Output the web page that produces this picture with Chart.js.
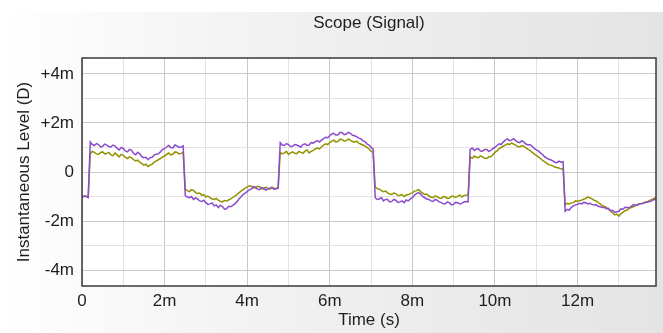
<!DOCTYPE html>
<html>
<head>
<meta charset="utf-8">
<script src="https://cdn.jsdelivr.net/npm/chart.js@4/dist/chart.umd.min.js"></script>
<style>
  html, body { margin: 0; padding: 0; background: #ffffff; }
  #wrap { position: relative; width: 663px; height: 333px; overflow: hidden; background: #ffffff; }
  #bg { position: absolute; left: 0; top: 12px; width: 663px; height: 321px;
        background: linear-gradient(to right, #ffffff 0%, #f3f3f3 35%, #e9e9e9 75%, #e4e4e4 100%); }
  canvas { position: absolute; left: 0; top: 0; }
</style>
</head>
<body>
<div id="wrap">
  <div id="bg"></div>
  <canvas id="c" width="663" height="333"></canvas>
</div>
<script>
// Time samples (ms)
const times = [
  0.00,0.05,0.10,0.15,0.20,0.25,0.30,0.35,0.40,0.45,
  0.50,0.55,0.60,0.65,0.70,0.75,0.80,0.85,0.90,0.95,
  1.00,1.05,1.10,1.15,1.20,1.25,1.30,1.35,1.40,1.45,
  1.50,1.55,1.60,1.65,1.70,1.75,1.80,1.85,1.90,1.95,
  2.00,2.05,2.10,2.15,2.20,2.25,2.30,2.35,2.40,2.45,
  2.50,2.55,2.60,2.65,2.70,2.75,2.80,2.85,2.90,2.95,
  3.00,3.05,3.10,3.15,3.20,3.25,3.30,3.35,3.40,3.45,
  3.50,3.55,3.60,3.65,3.70,3.75,3.80,3.85,3.90,3.95,
  4.00,4.05,4.10,4.15,4.20,4.25,4.30,4.35,4.40,4.45,
  4.50,4.55,4.60,4.65,4.70,4.75,4.80,4.85,4.90,4.95,
  5.00,5.05,5.10,5.15,5.20,5.25,5.30,5.35,5.40,5.45,
  5.50,5.55,5.60,5.65,5.70,5.75,5.80,5.85,5.90,5.95,
  6.00,6.05,6.10,6.15,6.20,6.25,6.30,6.35,6.40,6.45,
  6.50,6.55,6.60,6.65,6.70,6.75,6.80,6.85,6.90,6.95,
  7.00,7.05,7.10,7.15,7.20,7.25,7.30,7.35,7.40,7.45,
  7.50,7.55,7.60,7.65,7.70,7.75,7.80,7.85,7.90,7.95,
  8.00,8.05,8.10,8.15,8.20,8.25,8.30,8.35,8.40,8.45,
  8.50,8.55,8.60,8.65,8.70,8.75,8.80,8.85,8.90,8.95,
  9.00,9.05,9.10,9.15,9.20,9.25,9.30,9.35,9.40,9.45,
  9.50,9.55,9.60,9.65,9.70,9.75,9.80,9.85,9.90,9.95,
  10.00,10.05,10.10,10.15,10.20,10.25,10.30,10.35,10.40,10.45,
  10.50,10.55,10.60,10.65,10.70,10.75,10.80,10.85,10.90,10.95,
  11.00,11.05,11.10,11.15,11.20,11.25,11.30,11.35,11.40,11.45,
  11.50,11.55,11.60,11.65,11.70,11.75,11.80,11.85,11.90,11.95,
  12.00,12.05,12.10,12.15,12.20,12.25,12.30,12.35,12.40,12.45,
  12.50,12.55,12.60,12.65,12.70,12.75,12.80,12.85,12.90,12.95,
  13.00,13.05,13.10,13.15,13.20,13.25,13.30,13.35,13.40,13.45,
  13.50,13.55,13.60,13.65,13.70,13.75,13.80,13.85,13.90
];

// Purple trace (milli-units)
const purpleSignal = [
  -1.02,-0.98,-1.00,-1.04,1.22,1.12,1.08,1.16,1.12,1.02,
  1.05,1.14,1.10,1.04,1.02,1.10,1.06,0.96,0.90,1.00,
  0.96,0.86,0.82,0.92,0.88,0.76,0.70,0.80,0.74,0.62,
  0.58,0.60,0.50,0.58,0.60,0.70,0.72,0.74,0.82,0.92,
  0.95,1.02,1.08,1.00,0.98,1.10,1.06,1.00,1.02,1.06,
  -0.95,-1.02,-1.05,-1.00,-1.12,-1.06,-1.10,-1.18,-1.20,-1.15,
  -1.25,-1.32,-1.30,-1.26,-1.38,-1.34,-1.45,-1.36,-1.40,-1.52,
  -1.50,-1.40,-1.42,-1.36,-1.30,-1.22,-1.10,-1.02,-0.92,-0.86,
  -0.80,-0.72,-0.70,-0.60,-0.62,-0.70,-0.72,-0.64,-0.66,-0.74,
  -0.70,-0.66,-0.64,-0.70,-0.68,-0.66,1.20,1.10,1.08,1.16,
  1.12,1.04,1.05,1.12,1.10,1.06,1.02,1.12,1.15,1.08,
  1.10,1.20,1.18,1.24,1.28,1.22,1.30,1.36,1.42,1.40,
  1.48,1.55,1.58,1.50,1.52,1.62,1.60,1.52,1.55,1.62,
  1.58,1.50,1.48,1.44,1.38,1.36,1.28,1.24,1.15,1.10,
  1.00,0.94,-1.05,-1.12,-1.10,-1.04,-1.18,-1.12,-1.12,-1.22,
  -1.20,-1.12,-1.15,-1.24,-1.22,-1.18,-1.25,-1.14,-1.18,-1.10,
  -1.05,-0.94,-0.88,-0.84,-0.90,-1.00,-1.05,-1.10,-1.12,-1.18,
  -1.20,-1.12,-1.15,-1.22,-1.25,-1.30,-1.30,-1.22,-1.26,-1.34,
  -1.32,-1.24,-1.25,-1.30,-1.28,-1.22,-1.20,-1.22,0.92,0.98,
  0.88,0.94,0.95,0.86,0.85,0.92,0.92,0.84,0.88,0.96,
  1.00,1.08,1.15,1.12,1.22,1.30,1.35,1.28,1.30,1.36,
  1.28,1.22,1.20,1.28,1.22,1.14,1.10,1.12,1.05,0.96,
  0.90,0.86,0.78,0.72,0.62,0.58,0.52,0.50,0.45,0.40,
  0.38,0.44,0.40,0.42,-1.60,-1.52,-1.55,-1.44,-1.38,-1.34,
  -1.32,-1.28,-1.30,-1.24,-1.25,-1.30,-1.28,-1.32,-1.35,-1.34,
  -1.40,-1.42,-1.45,-1.44,-1.50,-1.48,-1.58,-1.56,-1.65,-1.62,
  -1.60,-1.50,-1.52,-1.44,-1.45,-1.46,-1.40,-1.34,-1.35,-1.36,
  -1.30,-1.30,-1.28,-1.24,-1.22,-1.20,-1.18,-1.12,-1.12
];

// Olive trace (milli-units)
const oliveSignal = [
  -1.02,-1.00,-0.98,-1.02,0.75,0.84,0.80,0.74,0.72,0.80,
  0.82,0.74,0.75,0.80,0.70,0.66,0.78,0.70,0.62,0.72,
  0.68,0.60,0.55,0.62,0.58,0.50,0.45,0.48,0.40,0.34,
  0.28,0.32,0.22,0.28,0.32,0.40,0.45,0.50,0.55,0.62,
  0.65,0.72,0.78,0.70,0.72,0.82,0.80,0.74,0.76,0.80,
  -0.70,-0.76,-0.80,-0.72,-0.75,-0.84,-0.88,-0.86,-0.95,-0.92,
  -1.02,-0.98,-1.05,-1.10,-1.12,-1.08,-1.15,-1.20,-1.22,-1.16,
  -1.18,-1.14,-1.10,-1.04,-0.98,-0.92,-0.85,-0.78,-0.72,-0.66,
  -0.62,-0.56,-0.58,-0.64,-0.65,-0.58,-0.60,-0.68,-0.70,-0.62,
  -0.66,-0.70,-0.62,-0.66,-0.68,-0.64,0.80,0.74,0.78,0.84,
  0.72,0.78,0.82,0.76,0.75,0.84,0.80,0.76,0.85,0.90,
  0.78,0.84,0.88,0.94,0.98,0.94,1.02,1.10,1.15,1.12,
  1.20,1.26,1.30,1.22,1.25,1.34,1.32,1.26,1.28,1.34,
  1.30,1.24,1.22,1.26,1.18,1.14,1.10,1.06,1.00,0.94,
  0.85,0.80,-0.62,-0.68,-0.70,-0.76,-0.80,-0.78,-0.85,-0.90,
  -0.92,-0.86,-0.88,-0.96,-0.95,-0.92,-1.00,-0.94,-0.92,-0.88,
  -0.85,-0.78,-0.76,-0.72,-0.80,-0.86,-0.92,-0.90,-0.98,-1.02,
  -1.05,-0.98,-1.00,-1.06,-1.08,-1.00,-1.02,-1.08,-1.06,-0.98,
  -1.00,-1.04,-0.98,-0.94,-1.02,-0.96,-0.95,-0.92,0.62,0.56,
  0.65,0.60,0.58,0.66,0.62,0.56,0.55,0.62,0.62,0.70,
  0.80,0.86,0.95,1.00,1.05,1.10,1.15,1.12,1.18,1.14,
  1.10,1.04,1.02,1.08,1.05,0.98,0.92,0.88,0.80,0.74,
  0.68,0.62,0.55,0.48,0.42,0.36,0.30,0.28,0.25,0.20,
  0.18,0.16,0.12,0.14,-1.35,-1.28,-1.30,-1.26,-1.25,-1.18,
  -1.20,-1.16,-1.15,-1.10,-1.08,-1.02,-1.05,-1.10,-1.15,-1.18,
  -1.25,-1.30,-1.38,-1.40,-1.45,-1.52,-1.60,-1.66,-1.75,-1.72,
  -1.80,-1.70,-1.65,-1.58,-1.55,-1.48,-1.45,-1.42,-1.38,-1.32,
  -1.30,-1.28,-1.25,-1.22,-1.20,-1.16,-1.12,-1.08,-1.05
];

const xLabelValues = [0, 2, 4, 6, 8, 10, 12];
const yLabelValues = [4, 2, 0, -2, -4];

const FONT = { family: "'Liberation Sans', Arial, sans-serif", size: 17 };
const TEXT = '#1e1e1e';

function toPoints(vals) { return vals.map((v, i) => ({ x: times[i], y: v })); }

const plotDecor = {
  id: 'plotDecor',
  beforeDraw(chart) {
    const { ctx, chartArea: a } = chart;
    ctx.save();
    ctx.fillStyle = '#ffffff';
    ctx.fillRect(a.left, a.top, a.right - a.left, a.bottom - a.top);
    ctx.restore();
  },
  afterDraw(chart) {
    const { ctx, chartArea: a } = chart;
    ctx.save();
    ctx.strokeStyle = '#3a3a3a';
    ctx.lineWidth = 1.5;
    ctx.strokeRect(a.left, a.top, a.right - a.left, a.bottom - a.top);
    ctx.restore();
  }
};

function gridColor(ctx) {
  const v = ctx.tick ? ctx.tick.value : 0;
  return (Math.round(v) % 2 === 0) ? '#c9c9c9' : '#e3e3e3';
}

new Chart(document.getElementById('c'), {
  type: 'line',
  data: {
    datasets: [
      { label: 'Purple', data: toPoints(purpleSignal), borderColor: '#8a4ccc', borderWidth: 1.5, pointRadius: 0, tension: 0, fill: false },
      { label: 'Olive', data: toPoints(oliveSignal), borderColor: '#929200', borderWidth: 1.5, pointRadius: 0, tension: 0, fill: false }
    ]
  },
  options: {
    responsive: false,
    animation: false,
    events: [],
    layout: { padding: { left: 0, right: 7, top: 0, bottom: 0 } },
    plugins: {
      legend: { display: false },
      tooltip: { enabled: false },
      title: {
        display: true, text: 'Scope (Signal)', fullSize: false,
        color: TEXT, font: { ...FONT, weight: 'normal' },
        padding: { top: 13.5, bottom: 24.1 }
      }
    },
    scales: {
      x: {
        type: 'linear', min: 0, max: 13.9,
        grid: { color: gridColor, drawTicks: false, lineWidth: 1 },
        border: { display: false },
        ticks: {
          stepSize: 1, includeBounds: false, autoSkip: false, maxRotation: 0,
          padding: 5, color: TEXT, font: FONT,
          callback: (v) => xLabelValues.includes(v) ? (v === 0 ? '0' : v + 'm') : ''
        },
        title: { display: true, text: 'Time (s)', color: TEXT, font: FONT, padding: { top: 2, bottom: 2 } },
        afterFit: (s) => { s.height = 47; }
      },
      y: {
        min: -4.65, max: 4.65,
        grid: { color: gridColor, drawTicks: false, lineWidth: 1 },
        border: { display: false },
        ticks: {
          stepSize: 1, includeBounds: false, autoSkip: false,
          padding: 8, color: TEXT, font: FONT,
          callback: (v) => yLabelValues.includes(v) ? (v === 0 ? '0' : (v > 0 ? '+' + v + 'm' : v + 'm')) : ''
        },
        title: { display: true, text: 'Instantaneous Level (D)', color: TEXT, font: FONT, padding: { top: 14, bottom: 14 } },
        afterFit: (s) => { s.width = 82; }
      }
    }
  },
  plugins: [plotDecor]
});
</script>
</body>
</html>
